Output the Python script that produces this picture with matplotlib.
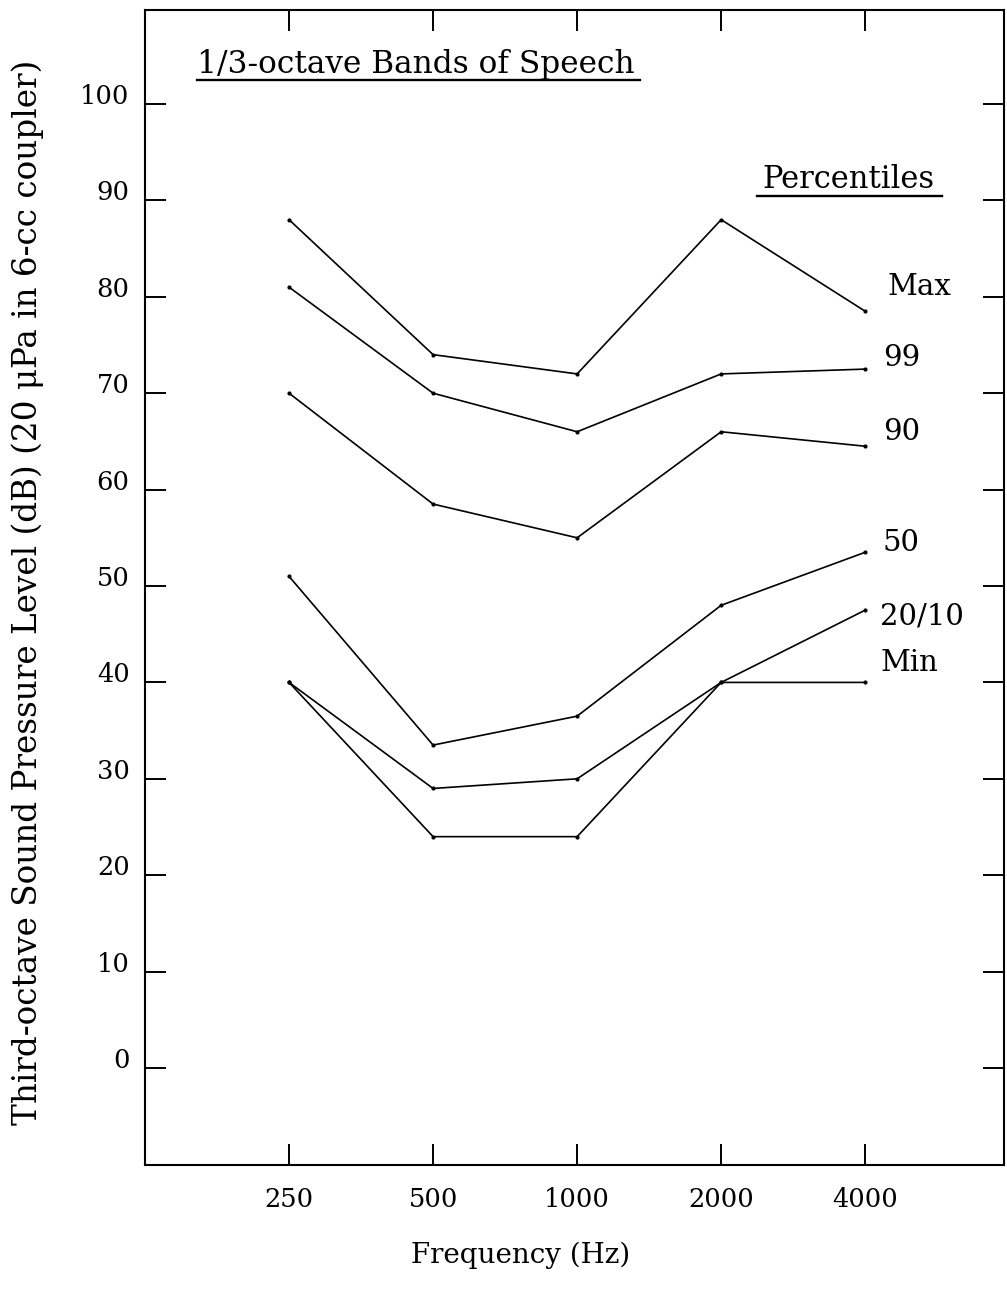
import matplotlib
matplotlib.use("Agg")
import matplotlib.pyplot as plt
from matplotlib.transforms import ScaledTranslation, blended_transform_factory
from matplotlib.ticker import FixedLocator, NullLocator, FixedFormatter

# ---- data ----
freqs = [250, 500, 1000, 2000, 4000]
freq_labels = ["250", "500", "1000", "2000", "4000"]
max_vals = [88, 74, 72, 88, 78.5]
p99_vals = [81, 70, 66, 72, 72.5]
p90_vals = [70, 58.5, 55, 66, 64.5]
p50_vals = [51, 33.5, 36.5, 48, 53.5]
p20_10_vals = [40, 29, 30, 40, 47.5]
min_vals = [40, 24, 24, 40, 40]
series_names = ["Max", "99", "90", "50", "20/10", "Min"]
y_ticks = [0, 10, 20, 30, 40, 50, 60, 70, 80, 90, 100]
y_tick_labels = ["0", "10", "20", "30", "40", "50", "60", "70", "80", "90", "100"]

series = [max_vals, p99_vals, p90_vals, p50_vals, p20_10_vals, min_vals]
# vertical position (data units) of each right-hand label
label_y = [81.0, 73.6, 66.0, 54.5, 46.8, 42.0]
label_x = [0.864, 0.859, 0.859, 0.859, 0.856, 0.856]

FONT = "DejaVu Serif"
plt.rcParams["font.family"] = FONT

W, H = 1007, 1291
fig = plt.figure(figsize=(W / 100, H / 100), dpi=100)
left, right, top, bottom = 145, 1004, 10, 1165
ax = fig.add_axes([left / W, 1 - bottom / H, (right - left) / W, (bottom - top) / H])

ax.set_xscale("log")
ax.set_xlim(125, 7800)
ax.set_ylim(-10.06, 109.75)

for vals in series:
    ax.plot(freqs, vals, color="black", lw=1.2, marker="o", ms=3.0,
            markerfacecolor="black", markeredgewidth=0)

# ticks
ax.xaxis.set_major_locator(FixedLocator(freqs))
ax.xaxis.set_major_formatter(FixedFormatter(freq_labels))
ax.xaxis.set_minor_locator(NullLocator())
ax.yaxis.set_major_locator(FixedLocator(y_ticks))
ax.yaxis.set_major_formatter(FixedFormatter(y_tick_labels))
ax.tick_params(axis="both", which="major", direction="in", length=15, width=1.4,
               top=True, right=True, labelsize=18.5, colors="black")
ax.tick_params(axis="x", pad=16)
ax.tick_params(axis="y", pad=11)
for lab in ax.get_yticklabels():
    lab.set_transform(lab.get_transform() + ScaledTranslation(0, 0.10, fig.dpi_scale_trans))

for sp in ax.spines.values():
    sp.set_linewidth(1.5)
    sp.set_color("black")

# axis labels
ax.set_xlabel("Frequency (Hz)", fontsize=20)
ax.xaxis.set_label_coords(0.437, -0.066)
ax.set_ylabel("Third-octave Sound Pressure Level (dB) (20 μPa in 6-cc coupler)", fontsize=23.5)
ax.yaxis.set_label_coords(-0.118, 0.496)

# title inside plot, underlined
ax.text(0.0605, 0.953, "1/3-octave Bands of Speech", transform=ax.transAxes,
        fontsize=22.5, ha="left", va="center")
ax.plot([0.0605, 0.576], [0.939, 0.939], transform=ax.transAxes, color="black",
        lw=1.7, clip_on=False)

ax.text(0.719, 0.853, "Percentiles", transform=ax.transAxes,
        fontsize=22, ha="left", va="center")
ax.plot([0.713, 0.928], [0.839, 0.839], transform=ax.transAxes, color="black",
        lw=1.7, clip_on=False)

trans = blended_transform_factory(ax.transAxes, ax.transData)
for name, lx, ly in zip(series_names, label_x, label_y):
    ax.text(lx, ly, name, transform=trans, fontsize=21, ha="left", va="center")

fig.savefig("out.png", dpi=100)
